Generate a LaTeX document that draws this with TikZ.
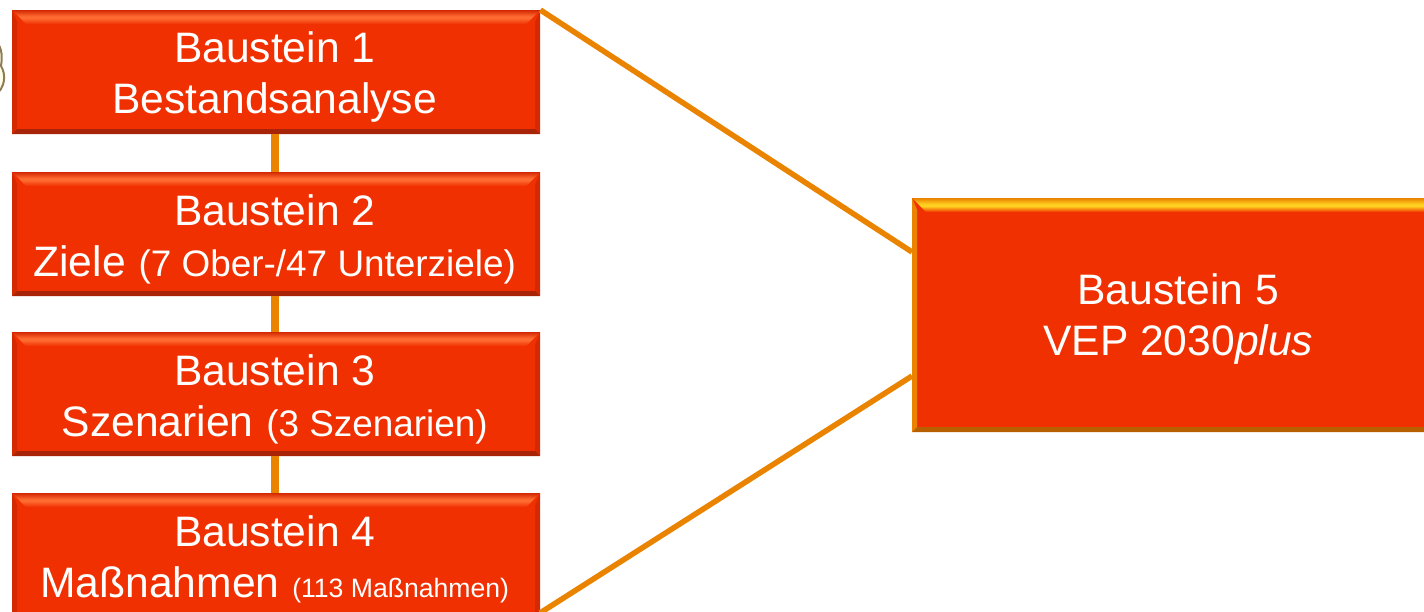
\documentclass[tikz,border=0pt]{standalone}
\usepackage{fontspec}
\setmainfont{Liberation Sans}
\usetikzlibrary{calc}

\definecolor{boxred}{HTML}{F03000}
\definecolor{darkred}{HTML}{A82408}
\definecolor{lightred}{HTML}{FF6A30}
\definecolor{edgered}{HTML}{D42A04}
\definecolor{lineorange}{HTML}{E98300}
\definecolor{darkorange}{HTML}{B85F00}
\definecolor{lightyellow}{HTML}{FFD020}
\definecolor{sliver}{HTML}{8F7C55}

\newcommand{\bigtext}{\fontsize{42.6}{51}\selectfont}
\newcommand{\smalltext}{\fontsize{36.9}{51}\selectfont}
\newcommand{\tinytext}{\fontsize{26.6}{51}\selectfont}
% Two centred lines, moved down by half of #1 and left by half of #2
\newcommand{\boxlines}[4]{\hspace*{-#2}\raisebox{0pt}[\dimexpr\height+#1\relax]{\begin{tabular}{@{}c@{}}#3\\#4\end{tabular}}}

\tikzset{
	connector/.style={draw=lineorange, line width=8pt},
	longline/.style={draw=lineorange, line width=5.5pt},
	% #1 top band, #2 its outer edge, #3 left and right, #4 bottom
	bevelbox/.style n args={4}{
		fill=boxred, text=white, align=center, inner sep=0pt, anchor=north west, font=\bigtext,
		minimum width=528pt,
		path picture={
			\coordinate (nw) at (path picture bounding box.north west);
			\coordinate (ne) at (path picture bounding box.north east);
			\coordinate (sw) at (path picture bounding box.south west);
			\coordinate (se) at (path picture bounding box.south east);
			\fill [#3] (nw)--(sw)--($(sw)+(5,-5)$)--($(nw)+(5,12)$)--cycle;
			\fill [#3] (ne)--(se)--($(se)+(-5,-5)$)--($(ne)+(-5,12)$)--cycle;
			\fill [#4] (sw)--(se)--($(se)+(-5,-5)$)--($(sw)+(5,-5)$)--cycle;
			\fill [top color=#2, bottom color=#1, middle color=#1] (nw)--(ne)--($(ne)+(-12,12)$)--($(nw)+(12,12)$)--cycle;
			\fill [top color=#1, bottom color=boxred] ($(nw)+(8,8)$)--($(ne)+(-8,8)$)--($(ne)+(-14,14)$)--($(nw)+(14,14)$)--cycle;
		}
	},
	redbox/.style={bevelbox={lightred}{edgered}{edgered}{darkred}, minimum height=124pt},
	yellowbox/.style={bevelbox={lightyellow}{lineorange}{lineorange}{darkorange}, minimum width=532pt, minimum height=234pt}
}

\begin{document}
\begin{tikzpicture}[x=1pt, y=-1pt]

\clip (0,0) rectangle (1424,612);

% Sliver of a shape at the left margin
\draw [draw=sliver, fill=yellow!10, line width=2pt] (-6,41) .. controls (1,44) and (3,54) .. (1,66) .. controls (6,74) and (6,88) .. (-6,96);

% Free ends of the two long lines
\coordinate (in5) at (912,252);
\coordinate (out5) at (912,376);
\coordinate (out4) at (540,613);

% Boxes
\node [redbox] (box1) at (12,10) {\boxlines{12pt}{3pt}{Baustein 1}{Bestandsanalyse}};
\node [redbox] (box2) at (12,172) {\boxlines{14pt}{3pt}{Baustein 2}{Ziele\hspace{1pt} {\smalltext (7 Ober-/47 Unterziele)}}};
\node [redbox] (box3) at (12,332) {\boxlines{14pt}{3pt}{Baustein 3}{Szenarien\hspace{1pt} {\smalltext (3 Szenarien)}}};
\node [redbox] (box4) at (12,493) {\boxlines{14pt}{3pt}{Baustein 4}{Maßnahmen\hspace{1pt} {\tinytext (113 Maßnahmen)}}};
\node [yellowbox] (box5) at (912,198) {\boxlines{10pt}{0pt}{Baustein 5}{VEP 2030\textit{plus}}};

% Connectors
\draw [connector] (box1.south -| 274.5,0)--(box2.north -| 274.5,0);
\draw [connector] (box2.south -| 274.5,0)--(box3.north -| 274.5,0);
\draw [connector] (box3.south -| 274.5,0)--(box4.north -| 274.5,0);
\draw [longline] (box1.north east)--(in5);
\draw [longline] (out4)--(out5);

\end{tikzpicture}
\end{document}
